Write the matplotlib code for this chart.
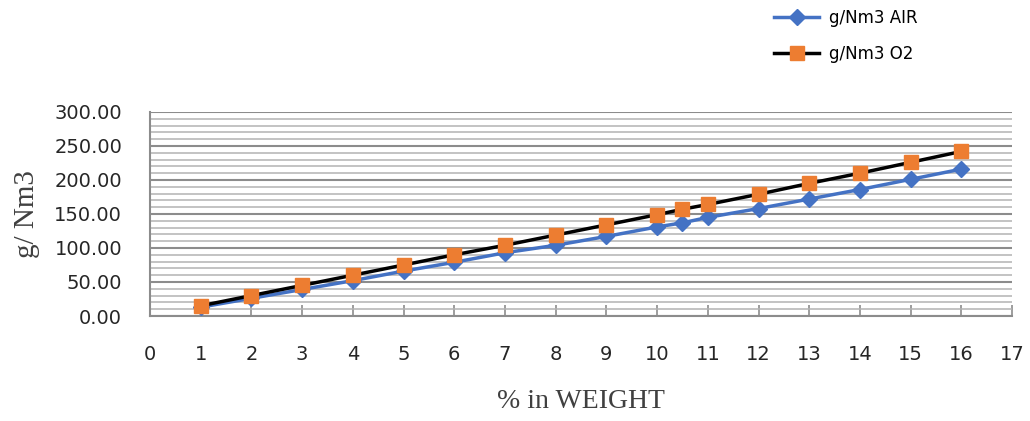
import numpy as np
import matplotlib
matplotlib.use("Agg")
import matplotlib.pyplot as plt
from matplotlib.ticker import MultipleLocator

# values
pct_weight = [1, 2, 3, 4, 5, 6, 7, 8, 9, 10, 10.5, 11, 12, 13, 14, 15, 16]
gnm3_air = [13, 26, 39, 52, 66, 79, 93, 104, 117, 131, 137, 145, 158, 172, 186, 201, 216]
gnm3_o2 = [15, 30, 45, 60, 75, 90, 104, 119, 134, 149, 157, 164, 179, 195, 210, 226, 242]
x_ticks = list(range(0, 18))
y_ticks = [0, 50, 100, 150, 200, 250, 300]

fig = plt.figure(figsize=(10.30, 4.21), dpi=100)
ax = fig.add_axes([0.1456, 0.2494, 0.837, 0.4846])

ax.plot(pct_weight, gnm3_air, color='#4472C4', lw=2.5, marker='D', ms=8,
        mec='#4472C4', mfc='#4472C4', label='g/Nm3 AIR', zorder=3)
ax.plot(pct_weight, gnm3_o2, color='black', lw=2.5, marker='s', ms=10,
        mec='#ED7D31', mfc='#ED7D31', label='g/Nm3 O2', zorder=4)

ax.set_xlim(0, 17)
ax.set_ylim(0, 300)
ax.set_xticks(x_ticks)
ax.set_yticks(y_ticks)
ax.set_yticklabels([f"{v:.2f}" for v in y_ticks])
ax.yaxis.set_minor_locator(MultipleLocator(10))

# grid: darker major lines every 50, lighter minor every 10
ax.grid(axis='y', which='major', color='#8c8c8c', lw=1.5)
ax.grid(axis='y', which='minor', color='#b3b3b3', lw=1.1)
ax.set_axisbelow(True)

for side in ['top', 'right']:
    ax.spines[side].set_visible(False)
ax.spines['left'].set_color('#8c8c8c')
ax.spines['bottom'].set_color('#8c8c8c')
ax.spines['left'].set_linewidth(1.5)
ax.spines['bottom'].set_linewidth(1.5)

ax.tick_params(axis='x', direction='in', length=8, width=1.2, color='#8c8c8c',
               pad=21, labelsize=14, labelcolor='#262626')
ax.tick_params(axis='y', which='both', length=0, pad=20, labelsize=14,
               labelcolor='#262626')

ax.set_xlabel('% in WEIGHT', family='Liberation Serif', fontsize=20,
              color='#404040', labelpad=18)
ax.set_ylabel('g/ Nm3', family='Liberation Serif', fontsize=21,
              color='#404040', labelpad=10)

ax.legend(loc='upper left', bbox_to_anchor=(0.707, 1.58), frameon=False,
          fontsize=12, handlelength=2.7, handletextpad=0.6, labelspacing=1.1)

fig.savefig('out.png', dpi=100)
